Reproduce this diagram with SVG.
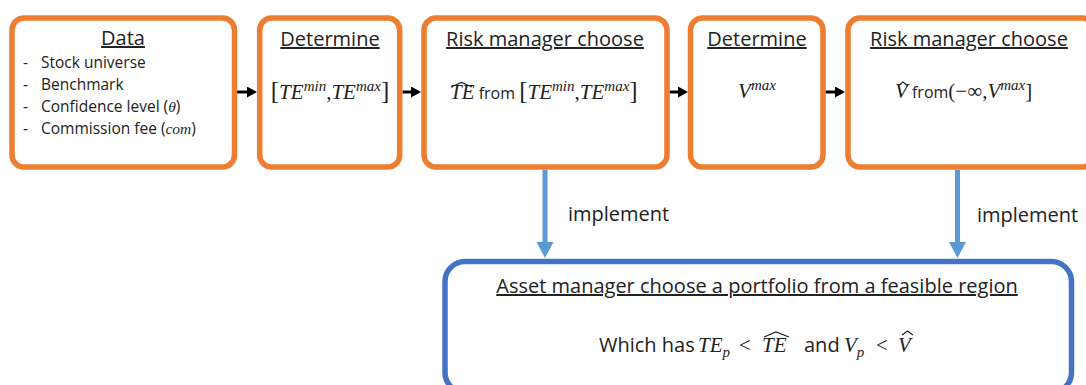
<svg xmlns="http://www.w3.org/2000/svg" width="1086" height="385" viewBox="0 0 1086 385">
<defs>
<marker id="ab" markerUnits="userSpaceOnUse" markerWidth="12" markerHeight="12" refX="0" refY="5.5" orient="auto"><path d="M0,0 L10,5.5 L0,11 Z" fill="#000"/></marker>
<marker id="abl" markerUnits="userSpaceOnUse" markerWidth="18" markerHeight="18" refX="0" refY="8.5" orient="auto"><path d="M0,0 L16,8.5 L0,17 Z" fill="#5B9BD5"/></marker>
</defs>
<style>
.ob{fill:#fff;stroke:#ED7D31;stroke-width:5.5}
.bb{fill:#fff;stroke:#4472C4;stroke-width:5.5}
.s{font-family:"Open Sans",sans-serif;fill:#222}
.ti{font-size:20px;text-decoration:underline}
.li{font-size:15.5px}
.m{font-family:"Liberation Serif",serif;font-style:italic}
.r{font-family:"Liberation Serif",serif;font-style:normal}
.sup{font-family:"Liberation Serif",serif;font-style:italic;font-size:15px}
.br{font-family:"Liberation Serif",serif;font-style:normal;font-size:25px}
.fr{font-family:"Open Sans",sans-serif;font-style:normal;font-size:16px}
.mt{fill:#222;font-size:21px}
.hat{fill:none;stroke:#222;stroke-width:1.2}
.ka{stroke:#000;stroke-width:3;fill:none}
.ba{stroke:#5B9BD5;stroke-width:5;fill:none}
</style>
<g id="connectors">
<line class="ka" x1="237" y1="92" x2="247" y2="92" marker-end="url(#ab)"/>
<line class="ka" x1="402.5" y1="92" x2="411" y2="92" marker-end="url(#ab)"/>
<line class="ka" x1="669.5" y1="92" x2="678" y2="92" marker-end="url(#ab)"/>
<line class="ka" x1="825.5" y1="92" x2="835" y2="92" marker-end="url(#ab)"/>
<line class="ba" x1="545" y1="170" x2="545" y2="242" marker-end="url(#abl)"/>
<line class="ba" x1="957.5" y1="170" x2="957.5" y2="242" marker-end="url(#abl)"/>
<text class="s" x="568" y="221" font-size="20">implement</text>
<text class="s" x="977" y="222" font-size="20">implement</text>
</g>
<g id="data">
<rect class="ob" x="12" y="18" width="222.5" height="149" rx="12"/>
<text class="s ti" x="123" y="45" text-anchor="middle">Data</text>
<g class="s li">
<text x="23" y="68">-</text><text x="41" y="68">Stock universe</text>
<text x="23" y="90">-</text><text x="41" y="90">Benchmark</text>
<text x="23" y="112">-</text><text x="41" y="112">Confidence level (<tspan class="m">θ</tspan>)</text>
<text x="23" y="134">-</text><text x="41" y="134">Commission fee (<tspan class="m">com</tspan>)</text>
</g>
</g>
<g id="determine-te">
<rect class="ob" x="259.7" y="18" width="140" height="149" rx="12"/>
<text class="s ti" x="330" y="46" text-anchor="middle">Determine</text>
<text class="mt" x="330" y="99" text-anchor="middle"><tspan class="br">[</tspan><tspan class="m">TE</tspan><tspan class="sup" dy="-8">min</tspan><tspan class="r" dy="8">,</tspan><tspan class="m">TE</tspan><tspan class="sup" dy="-8">max</tspan><tspan class="br" dy="8">]</tspan></text>
</g>
<g id="choose-te">
<rect class="ob" x="424" y="18" width="243" height="149" rx="12"/>
<text class="s ti" x="545" y="46" text-anchor="middle">Risk manager choose</text>
<text class="mt" x="450" y="99"><tspan class="m">TE</tspan><tspan class="fr"> from </tspan><tspan class="br">[</tspan><tspan class="m">TE</tspan><tspan class="sup" dy="-8">min</tspan><tspan class="r" dy="8">,</tspan><tspan class="m">TE</tspan><tspan class="sup" dy="-8">max</tspan><tspan class="br" dy="8">]</tspan></text>
<polyline class="hat" points="451,87 461.5,82.5 472,87"/>
</g>
<g id="determine-v">
<rect class="ob" x="690.5" y="18" width="132.5" height="149" rx="12"/>
<text class="s ti" x="757" y="46" text-anchor="middle">Determine</text>
<text class="mt" x="757" y="98" text-anchor="middle"><tspan class="m">V</tspan><tspan class="sup" dy="-8">max</tspan></text>
</g>
<g id="choose-v">
<rect class="ob" x="848" y="18" width="246" height="149" rx="12"/>
<text class="s ti" x="969" y="46" text-anchor="middle">Risk manager choose</text>
<text class="mt" x="895" y="98"><tspan class="m">V</tspan><tspan class="fr"> from</tspan><tspan class="r">(−∞,</tspan><tspan class="m">V</tspan><tspan class="sup" dy="-8">max</tspan><tspan class="r" dy="8">]</tspan></text>
<polyline class="hat" points="898,86 903,82 908,86"/>
</g>
<g id="asset-manager">
<rect class="bb" x="445" y="261.5" width="626.5" height="131" rx="20"/>
<text class="s ti" x="757" y="293" text-anchor="middle" font-size="20.3">Asset manager choose a portfolio from a feasible region</text>
<text class="mt" y="352" font-size="24"><tspan class="s" x="599" font-size="20">Which has</tspan><tspan class="m" x="698">TE</tspan><tspan class="sup" dy="5" font-size="16">p</tspan><tspan class="r" x="739" dy="-5">&lt;</tspan><tspan class="m" x="762">TE</tspan><tspan class="s" x="804" font-size="20">and</tspan><tspan class="m" x="844">V</tspan><tspan class="sup" dy="5" font-size="16">p</tspan><tspan class="r" x="876" dy="-5">&lt;</tspan><tspan class="m" x="898">V</tspan></text>
<polyline class="hat" points="764,337 776,332 789,337"/>
<polyline class="hat" points="902,335 907.5,331 913,335"/>
</g>
</svg>
